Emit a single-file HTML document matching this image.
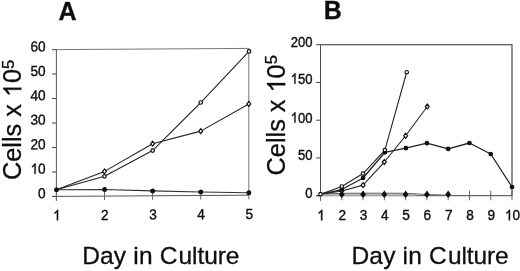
<!DOCTYPE html>
<html><head><meta charset="utf-8"><title>Chart</title>
<style>
html,body{margin:0;padding:0;background:#fff;}
body{width:520px;height:271px;overflow:hidden;}
svg{display:block;will-change:transform;}
text{font-family:"Liberation Sans",sans-serif;fill:#111;stroke:#111;stroke-width:0.3px;}
.t{font-size:14.5px;stroke-width:0.4px;}
.h{font-size:25px;font-weight:bold;}
.x{font-size:24.5px;letter-spacing:0.18px;}
.y{font-size:25.3px;}
</style></head><body>
<svg width="520" height="271" viewBox="0 0 520 271">
<defs><filter id="soft" x="0" y="0" width="520" height="271" filterUnits="userSpaceOnUse"><feGaussianBlur stdDeviation="0.38"/></filter></defs>
<rect width="520" height="271" fill="#fff"/>
<g filter="url(#soft)">
<g transform="translate(56.4,196.4) skewY(-0.36) translate(-56.4,-196.4)"><path d="M56.4 49.6 H248.8 V196.4" fill="none" stroke="#666" stroke-width="0.9"/>
<path d="M56.4 49.6 V201.0" fill="none" stroke="#444" stroke-width="0.9"/>
<path d="M52.0 196.4 H248.8" fill="none" stroke="#4a4a4a" stroke-width="0.95"/>
<path d="M52.0 196.40 H56.4" stroke="#444" stroke-width="1"/>
<text transform="translate(38.12,198.10) scale(0.94,1)" class="t">0</text>
<path d="M52.0 171.93 H56.4" stroke="#444" stroke-width="1"/>
<path transform="translate(30.54,173.63) scale(0.006655,-0.007080)" d="M763 0L583 0L583 1147Q430 1010 223 907L223 1081Q500 1210 647 1472L763 1472Z" fill="#111" stroke="#111" stroke-width="55"/><text transform="translate(38.12,173.63) scale(0.94,1)" class="t">0</text>
<path d="M52.0 147.47 H56.4" stroke="#444" stroke-width="1"/>
<text transform="translate(30.54,149.17) scale(0.94,1)" class="t">2</text><text transform="translate(38.12,149.17) scale(0.94,1)" class="t">0</text>
<path d="M52.0 123.00 H56.4" stroke="#444" stroke-width="1"/>
<text transform="translate(30.54,124.70) scale(0.94,1)" class="t">3</text><text transform="translate(38.12,124.70) scale(0.94,1)" class="t">0</text>
<path d="M52.0 98.53 H56.4" stroke="#444" stroke-width="1"/>
<text transform="translate(30.54,100.23) scale(0.94,1)" class="t">4</text><text transform="translate(38.12,100.23) scale(0.94,1)" class="t">0</text>
<path d="M52.0 74.07 H56.4" stroke="#444" stroke-width="1"/>
<text transform="translate(30.54,75.77) scale(0.94,1)" class="t">5</text><text transform="translate(38.12,75.77) scale(0.94,1)" class="t">0</text>
<path d="M52.0 49.60 H56.4" stroke="#444" stroke-width="1"/>
<text transform="translate(30.54,51.30) scale(0.94,1)" class="t">6</text><text transform="translate(38.12,51.30) scale(0.94,1)" class="t">0</text>
<path d="M56.40 192.4 V200.4" stroke="#666" stroke-width="1"/>
<path transform="translate(53.01,220.20) scale(0.006655,-0.007080)" d="M763 0L583 0L583 1147Q430 1010 223 907L223 1081Q500 1210 647 1472L763 1472Z" fill="#111" stroke="#111" stroke-width="55"/>
<path d="M104.50 192.4 V200.4" stroke="#666" stroke-width="1"/>
<text transform="translate(101.11,220.20) scale(0.94,1)" class="t">2</text>
<path d="M152.60 192.4 V200.4" stroke="#666" stroke-width="1"/>
<text transform="translate(149.21,220.20) scale(0.94,1)" class="t">3</text>
<path d="M200.70 192.4 V200.4" stroke="#666" stroke-width="1"/>
<text transform="translate(197.31,220.20) scale(0.94,1)" class="t">4</text>
<path d="M248.80 192.4 V200.4" stroke="#666" stroke-width="1"/>
<text transform="translate(245.41,220.20) scale(0.94,1)" class="t">5</text>
<polyline points="56.40,189.79 104.50,176.58 152.60,151.14 200.70,103.43 249.04,52.66" fill="none" stroke="#222" stroke-width="1.08" stroke-linejoin="round"/>
<polyline points="56.40,189.79 104.50,171.69 152.60,144.29 200.70,132.05 248.80,105.14" fill="none" stroke="#222" stroke-width="1.08" stroke-linejoin="round"/>
<polyline points="56.40,189.79 104.50,189.79 152.60,191.51 200.70,192.97 248.80,193.95" fill="none" stroke="#333" stroke-width="1.1" stroke-linejoin="round"/>
<circle cx="104.50" cy="176.58" r="1.75" fill="#fff" stroke="#111" stroke-width="1.2"/>
<circle cx="152.60" cy="151.14" r="1.75" fill="#fff" stroke="#111" stroke-width="1.2"/>
<circle cx="200.70" cy="103.43" r="1.75" fill="#fff" stroke="#111" stroke-width="1.2"/>
<circle cx="249.04" cy="52.66" r="1.75" fill="#fff" stroke="#111" stroke-width="1.2"/>
<path d="M104.50 169.24 L106.46 171.69 L104.50 174.14 L102.54 171.69 Z" fill="#fff" stroke="#111" stroke-width="1.2"/>
<path d="M152.60 141.84 L154.56 144.29 L152.60 146.74 L150.64 144.29 Z" fill="#fff" stroke="#111" stroke-width="1.2"/>
<path d="M200.70 129.60 L202.66 132.05 L200.70 134.50 L198.74 132.05 Z" fill="#fff" stroke="#111" stroke-width="1.2"/>
<path d="M248.80 102.69 L250.76 105.14 L248.80 107.59 L246.84 105.14 Z" fill="#fff" stroke="#111" stroke-width="1.2"/>
<circle cx="56.40" cy="189.79" r="1.9" fill="#111" stroke="#111" stroke-width="1.2"/>
<circle cx="104.50" cy="189.79" r="1.9" fill="#111" stroke="#111" stroke-width="1.2"/>
<circle cx="152.60" cy="191.51" r="1.9" fill="#111" stroke="#111" stroke-width="1.2"/>
<circle cx="200.70" cy="192.97" r="1.9" fill="#111" stroke="#111" stroke-width="1.2"/>
<circle cx="248.80" cy="193.95" r="1.9" fill="#111" stroke="#111" stroke-width="1.2"/></g>
<path d="M320.5 44.7 H512.0 V195.7" fill="none" stroke="#333" stroke-width="1.1"/>
<path d="M320.5 44.7 V200.7" fill="none" stroke="#444" stroke-width="0.95"/>
<path d="M316.2 195.7 H512.0" fill="none" stroke="#444" stroke-width="1"/>
<path d="M316.2 195.70 H320.5" stroke="#444" stroke-width="1"/>
<text transform="translate(305.14,197.70) scale(0.9,1)" class="t">0</text>
<path d="M316.2 157.95 H320.5" stroke="#444" stroke-width="1"/>
<text transform="translate(297.88,160.05) scale(0.9,1)" class="t">5</text><text transform="translate(305.14,160.05) scale(0.9,1)" class="t">0</text>
<path d="M316.2 120.20 H320.5" stroke="#444" stroke-width="1"/>
<path transform="translate(290.63,122.60) scale(0.006372,-0.007080)" d="M763 0L583 0L583 1147Q430 1010 223 907L223 1081Q500 1210 647 1472L763 1472Z" fill="#111" stroke="#111" stroke-width="55"/><text transform="translate(297.88,122.60) scale(0.9,1)" class="t">0</text><text transform="translate(305.14,122.60) scale(0.9,1)" class="t">0</text>
<path d="M316.2 82.45 H320.5" stroke="#444" stroke-width="1"/>
<path transform="translate(290.63,83.65) scale(0.006372,-0.007080)" d="M763 0L583 0L583 1147Q430 1010 223 907L223 1081Q500 1210 647 1472L763 1472Z" fill="#111" stroke="#111" stroke-width="55"/><text transform="translate(297.88,83.65) scale(0.9,1)" class="t">5</text><text transform="translate(305.14,83.65) scale(0.9,1)" class="t">0</text>
<path d="M316.2 44.70 H320.5" stroke="#444" stroke-width="1"/>
<text transform="translate(290.63,46.80) scale(0.9,1)" class="t">2</text><text transform="translate(297.88,46.80) scale(0.9,1)" class="t">0</text><text transform="translate(305.14,46.80) scale(0.9,1)" class="t">0</text>
<path d="M320.50 190.7 V200.29999999999998" stroke="#666" stroke-width="1"/>
<path transform="translate(317.21,220.20) scale(0.006655,-0.007080)" d="M763 0L583 0L583 1147Q430 1010 223 907L223 1081Q500 1210 647 1472L763 1472Z" fill="#111" stroke="#111" stroke-width="55"/>
<path d="M341.78 190.7 V200.29999999999998" stroke="#666" stroke-width="1"/>
<text transform="translate(338.49,220.20) scale(0.94,1)" class="t">2</text>
<path d="M363.06 190.7 V200.29999999999998" stroke="#666" stroke-width="1"/>
<text transform="translate(359.77,220.20) scale(0.94,1)" class="t">3</text>
<path d="M384.33 190.7 V200.29999999999998" stroke="#666" stroke-width="1"/>
<text transform="translate(381.04,220.20) scale(0.94,1)" class="t">4</text>
<path d="M405.61 190.7 V200.29999999999998" stroke="#666" stroke-width="1"/>
<text transform="translate(402.32,220.20) scale(0.94,1)" class="t">5</text>
<path d="M426.89 190.7 V200.29999999999998" stroke="#666" stroke-width="1"/>
<text transform="translate(423.60,220.20) scale(0.94,1)" class="t">6</text>
<path d="M448.17 190.7 V200.29999999999998" stroke="#666" stroke-width="1"/>
<text transform="translate(444.88,220.20) scale(0.94,1)" class="t">7</text>
<path d="M469.44 190.7 V200.29999999999998" stroke="#666" stroke-width="1"/>
<text transform="translate(466.15,220.20) scale(0.94,1)" class="t">8</text>
<path d="M490.72 190.7 V200.29999999999998" stroke="#666" stroke-width="1"/>
<text transform="translate(487.43,220.20) scale(0.94,1)" class="t">9</text>
<path d="M512.00 190.7 V200.29999999999998" stroke="#666" stroke-width="1"/>
<path transform="translate(504.92,220.20) scale(0.006655,-0.007080)" d="M763 0L583 0L583 1147Q430 1010 223 907L223 1081Q500 1210 647 1472L763 1472Z" fill="#111" stroke="#111" stroke-width="55"/><text transform="translate(512.50,220.20) scale(0.94,1)" class="t">0</text>
<path d="M320.50 194.6 H416.25" stroke="#bbb" stroke-width="2.2"/>
<polyline points="320.50,194.00 341.78,193.30 363.06,193.20 384.33,193.20 405.61,193.30 426.89,194.50 448.17,195.20" fill="none" stroke="#666" stroke-width="1.0" stroke-linejoin="round"/>
<polyline points="320.50,194.19 341.78,186.49 363.06,173.58 384.87,150.10 406.68,72.26" fill="none" stroke="#222" stroke-width="1.08" stroke-linejoin="round"/>
<polyline points="320.50,194.19 341.78,190.94 363.06,185.13 384.33,162.03 405.61,135.75 427.31,106.46" fill="none" stroke="#222" stroke-width="1.08" stroke-linejoin="round"/>
<polyline points="320.50,194.19 341.78,189.51 363.06,177.96 384.97,152.29 405.82,148.13 426.89,143.15 448.17,148.89 469.44,143.00 490.72,154.02 512.00,187.02" fill="none" stroke="#222" stroke-width="1.3" stroke-linejoin="round"/>
<path d="M341.78 188.49 L343.74 190.94 L341.78 193.39 L339.82 190.94 Z" fill="#fff" stroke="#111" stroke-width="1.2"/>
<path d="M363.06 182.68 L365.02 185.13 L363.06 187.58 L361.10 185.13 Z" fill="#fff" stroke="#111" stroke-width="1.2"/>
<path d="M384.33 159.58 L386.29 162.03 L384.33 164.48 L382.37 162.03 Z" fill="#fff" stroke="#111" stroke-width="1.2"/>
<path d="M405.61 133.30 L407.57 135.75 L405.61 138.20 L403.65 135.75 Z" fill="#fff" stroke="#111" stroke-width="1.2"/>
<path d="M427.31 104.01 L429.27 106.46 L427.31 108.91 L425.35 106.46 Z" fill="#fff" stroke="#111" stroke-width="1.2"/>
<path d="M341.78 191.70 L343.94 194.40 L341.78 197.10 L339.62 194.40 Z" fill="#111" stroke="#111" stroke-width="1.2"/>
<path d="M363.06 191.70 L365.22 194.40 L363.06 197.10 L360.90 194.40 Z" fill="#111" stroke="#111" stroke-width="1.2"/>
<path d="M384.33 191.70 L386.49 194.40 L384.33 197.10 L382.17 194.40 Z" fill="#111" stroke="#111" stroke-width="1.2"/>
<path d="M405.61 191.70 L407.77 194.40 L405.61 197.10 L403.45 194.40 Z" fill="#111" stroke="#111" stroke-width="1.2"/>
<path d="M426.89 191.70 L429.05 194.40 L426.89 197.10 L424.73 194.40 Z" fill="#111" stroke="#111" stroke-width="1.2"/>
<path d="M448.17 191.70 L450.33 194.40 L448.17 197.10 L446.01 194.40 Z" fill="#111" stroke="#111" stroke-width="1.2"/>
<circle cx="341.78" cy="189.51" r="1.75" fill="#111" stroke="#111" stroke-width="1.2"/>
<circle cx="363.06" cy="177.96" r="1.75" fill="#111" stroke="#111" stroke-width="1.2"/>
<circle cx="384.97" cy="152.29" r="1.75" fill="#111" stroke="#111" stroke-width="1.2"/>
<circle cx="405.82" cy="148.13" r="1.75" fill="#111" stroke="#111" stroke-width="1.2"/>
<circle cx="426.89" cy="143.15" r="1.75" fill="#111" stroke="#111" stroke-width="1.2"/>
<circle cx="448.17" cy="148.89" r="1.75" fill="#111" stroke="#111" stroke-width="1.2"/>
<circle cx="469.44" cy="143.00" r="1.75" fill="#111" stroke="#111" stroke-width="1.2"/>
<circle cx="490.72" cy="154.02" r="1.75" fill="#111" stroke="#111" stroke-width="1.2"/>
<circle cx="512.00" cy="187.02" r="1.75" fill="#111" stroke="#111" stroke-width="1.2"/>
<circle cx="320.50" cy="194.19" r="1.75" fill="#fff" stroke="#111" stroke-width="1.2"/>
<circle cx="341.78" cy="186.49" r="1.75" fill="#fff" stroke="#111" stroke-width="1.2"/>
<circle cx="363.06" cy="173.58" r="1.75" fill="#fff" stroke="#111" stroke-width="1.2"/>
<circle cx="384.87" cy="150.10" r="1.75" fill="#fff" stroke="#111" stroke-width="1.2"/>
<circle cx="406.68" cy="72.26" r="1.75" fill="#fff" stroke="#111" stroke-width="1.2"/>
<text x="67.6" y="20" class="h" text-anchor="middle">A</text>
<text x="332.8" y="18.75" class="h" text-anchor="middle">B</text>
<text x="82.2" y="264" class="x">Day in C<tspan dx="1" style="letter-spacing:-0.1px">ulture</tspan></text>
<text x="351.5" y="264" class="x">Day in C<tspan dx="1" style="letter-spacing:-0.1px">ulture</tspan></text>
<g transform="translate(21.3,180.0) rotate(-90)"><text class="y">Cells x</text><path transform="translate(82.93,0) scale(0.012354,-0.012354)" d="M763 0L583 0L583 1147Q430 1010 223 907L223 1081Q500 1210 647 1472L763 1472Z" fill="#111" stroke="#111" stroke-width="24"/><text class="y" x="97.00">0<tspan dy="-7.8" font-size="16.5">5</tspan></text></g>
<g transform="translate(285.2,175.4) rotate(-90)"><text class="y">Cells x</text><path transform="translate(82.93,0) scale(0.012354,-0.012354)" d="M763 0L583 0L583 1147Q430 1010 223 907L223 1081Q500 1210 647 1472L763 1472Z" fill="#111" stroke="#111" stroke-width="24"/><text class="y" x="97.00">0<tspan dy="-7.8" font-size="16.5">5</tspan></text></g>
</g>
</svg>
</body></html>
